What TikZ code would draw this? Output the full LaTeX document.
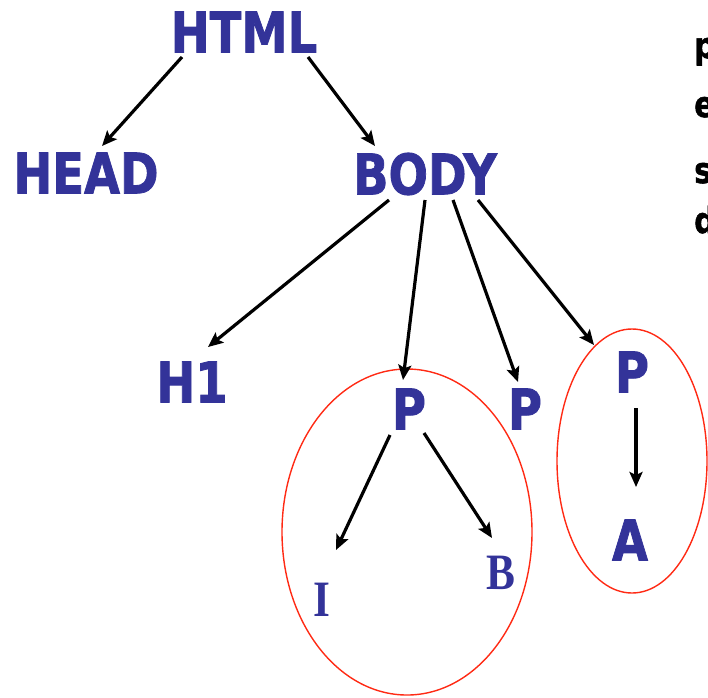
\documentclass[tikz,border=0pt]{standalone}
\usepackage{fontspec}
\usepackage{graphicx}
\usetikzlibrary{arrows.meta}
\newfontfamily\verd[FakeBold=1.5]{DejaVu Sans}
\newfontfamily\tms{Liberation Serif}
\definecolor{tagblue}{HTML}{333399}
\definecolor{grpred}{HTML}{FF2A14}
\newcommand{\tg}[1]{\scalebox{0.83}[1]{\verd\bfseries\fontsize{56}{56}\selectfont #1}}
\newcommand{\tgs}[1]{\scalebox{0.85}[1]{\tms\bfseries\fontsize{51}{51}\selectfont #1}}
\newcommand{\side}[1]{\scalebox{0.83}[1]{\verd\bfseries\fontsize{36}{36}\selectfont #1}}
\begin{document}
\begin{tikzpicture}[x=1pt, y=-1pt,
    tag/.style={inner sep=0pt, text=tagblue},
    link/.style={line width=3.2pt, -{Stealth[length=15pt, width=13pt, inset=3pt]}},
    group/.style={grpred, line width=1.4pt}]
      \useasboundingbox (0, 0) rectangle (708, 697);
      \draw (244, 32) node (html) [tag] {\tg{HTML}}
            (86, 173) node (head) [tag] {\tg{HEAD}}
            (425, 174) node (body) [tag] {\tg{BODY}}
            (192, 382) node (h1) [tag] {\tg{H1}}
            (409, 409) node (p1) [tag] {\tg{P}}
            (525, 409) node (p2) [tag] {\tg{P}}
            (632, 372) node (p3) [tag] {\tg{P}}
            (630, 540) node (a) [tag] {\tg{A}}
            (322, 600) node (i) [tag] {\tgs{I}}
            (501, 573) node (b) [tag] {\tgs{B}};
      \draw (694, 58) node (pl) [anchor=base west, inner sep=0pt] {\side{p}}
            (694, 117) node (el) [anchor=base west, inner sep=0pt] {\side{e}}
            (694, 183) node (sl) [anchor=base west, inner sep=0pt] {\side{s}}
            (694, 233) node (dl) [anchor=base west, inner sep=0pt] {\side{d}};
      \draw[group] (407, 532) ellipse [x radius=125, y radius=163]
                   (632, 461) ellipse [x radius=75, y radius=132];
      \draw[link] ([shift={(-62, 25)}]html.center) -- ([shift={(16, -27)}]head.center);
      \draw[link] ([shift={(64, 25)}]html.center) -- ([shift={(-50, -28)}]body.center);
      \draw[link] ([shift={(-36, 26)}]body.center) -- ([shift={(16, -35)}]h1.center);
      \draw[link] ([shift={(0, 26)}]body.center) -- ([shift={(-6, -29)}]p1.center);
      \draw[link] ([shift={(28, 26)}]body.center) -- ([shift={(-7, -27)}]p2.center);
      \draw[link] ([shift={(53, 26)}]body.center) -- ([shift={(-38, -27)}]p3.center);
      \draw[link] ([shift={(-19, 26)}]p1.center) -- ([shift={(14, -50)}]i.center);
      \draw[link] ([shift={(15, 24)}]p1.center) -- ([shift={(-9, -35)}]b.center);
      \draw[link] ([shift={(4, 36)}]p3.center) -- ([shift={(6, -53)}]a.center);
\end{tikzpicture}
\end{document}
